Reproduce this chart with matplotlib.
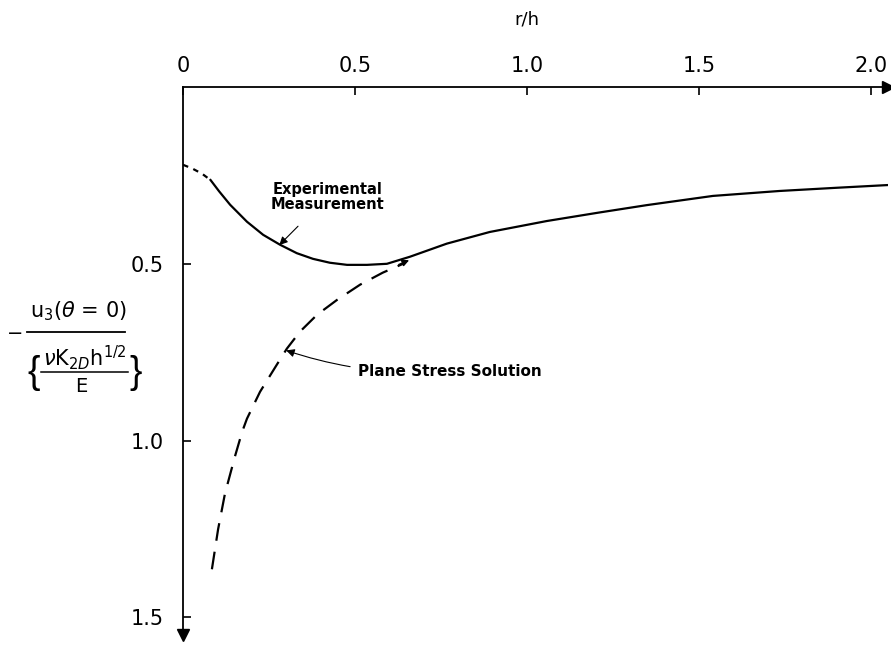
import numpy as np
from matplotlib import pyplot as plt
from matplotlib.lines import Line2D

plt.rcParams['font.family'] = 'DejaVu Sans'
plt.rcParams['mathtext.fontset'] = 'dejavusans'

# experimental measurement: dotted extrapolation near r=0, then solid
exp_dot_x = [0.0, 0.026, 0.055, 0.08]
exp_dot_y = [0.22, 0.23, 0.245, 0.263]
exp_x = [0.08, 0.105, 0.137, 0.186, 0.233, 0.282, 0.331, 0.378, 0.427, 0.477, 0.535,
         0.593, 0.66, 0.767, 0.892, 1.058, 1.21, 1.349, 1.541, 1.735, 1.9, 2.055]
exp_y = [0.263, 0.295, 0.333, 0.381, 0.418, 0.446, 0.47, 0.486, 0.497, 0.503, 0.503,
         0.5, 0.48, 0.443, 0.41, 0.379, 0.355, 0.334, 0.308, 0.294, 0.285, 0.277]

# plane stress solution (dashed)
ps_x = [0.084, 0.102, 0.122, 0.151, 0.172, 0.186, 0.224, 0.273, 0.302, 0.34, 0.39,
        0.448, 0.515, 0.581, 0.64]
ps_y = [1.364, 1.251, 1.15, 1.045, 0.975, 0.938, 0.862, 0.785, 0.74, 0.692, 0.644,
        0.602, 0.559, 0.525, 0.5]

xticks = [0, 0.5, 1.0, 1.5, 2.0]
xtick_labels = ['0', '0.5', '1.0', '1.5', '2.0']
yticks = [0.5, 1.0, 1.5]
ytick_labels = ['0.5', '1.0', '1.5']

W, H = 891, 647
fig = plt.figure(figsize=(W / 100, H / 100), dpi=100)
ax = fig.add_axes([0.2054, 0.0185, 0.7912, 0.847])

ax.plot(exp_dot_x, exp_dot_y, color='k', lw=1.6, ls=(0, (2.5, 2.5)))
ax.plot(exp_x, exp_y, color='k', lw=1.6)
ax.plot(ps_x, ps_y, color='k', lw=1.6, ls=(0, (8, 5)))
# small arrowhead where the dashed curve joins the measurement
ax.annotate('', xy=(0.665, 0.487), xytext=(0.62, 0.505),
            arrowprops=dict(arrowstyle='-|>', color='k', lw=1.0, mutation_scale=10))

ax.set_xlim(0, 2.05)
ax.set_ylim(1.55, 0)
for s in ['right', 'bottom']:
    ax.spines[s].set_visible(False)
for s in ['left', 'top']:
    ax.spines[s].set_linewidth(1.3)

ax.xaxis.tick_top()
ax.set_xticks(xticks, xtick_labels)
ax.set_yticks(yticks, ytick_labels)
ax.tick_params(axis='both', direction='in', length=6, width=1.2, labelsize=15)
ax.tick_params(axis='x', pad=8)
ax.tick_params(axis='y', pad=14)

# axis arrow heads
ax.plot(1, 1, '>k', ms=8, transform=ax.transAxes, clip_on=False)
ax.plot(0, 0, 'vk', ms=8, transform=ax.transAxes, clip_on=False)

ax.text(1.0, -0.19, 'r/h', ha='center', va='center', fontsize=13, clip_on=False)


# y label built as a stacked fraction, positions in pixels
def fx(px):
    return px / W


def fy(py):
    return 1 - py / H


fig.text(fx(15), fy(333), '\u2212', ha='center', va='center', fontsize=14)
fig.text(fx(78), fy(311), r'u$_3$($\theta$ = 0)', ha='center', va='center', fontsize=15)
fig.add_artist(Line2D([fx(27), fx(125)], [fy(332), fy(332)], color='k', lw=1.3))
fig.text(fx(34), fy(373), '{', ha='center', va='center', fontsize=27,
         family='Liberation Sans')
fig.text(fx(136), fy(373), '}', ha='center', va='center', fontsize=27,
         family='Liberation Sans')
fig.text(fx(85), fy(358), r'$\nu$K$_{2D}$h$^{1/2}$', ha='center', va='center', fontsize=15)
fig.add_artist(Line2D([fx(41), fx(128)], [fy(372), fy(372)], color='k', lw=1.1))
fig.text(fx(81), fy(387), 'E', ha='center', va='center', fontsize=14)

ax.annotate('Experimental\nMeasurement', xy=(0.28, 0.447), xytext=(0.42, 0.31),
            ha='center', va='center', fontsize=10.5, fontweight='bold', linespacing=1.0,
            arrowprops=dict(arrowstyle='-|>', color='k', lw=0.8, shrinkA=12, shrinkB=0,
                            mutation_scale=12))
ax.annotate('Plane Stress Solution', xy=(0.30, 0.745), xytext=(0.51, 0.805),
            ha='left', va='center', fontsize=11, fontweight='bold',
            arrowprops=dict(arrowstyle='-|>', color='k', lw=0.8, shrinkA=4, shrinkB=0,
                            mutation_scale=12, connectionstyle='arc3,rad=-0.1'))

fig.savefig('out.png', dpi=100)
